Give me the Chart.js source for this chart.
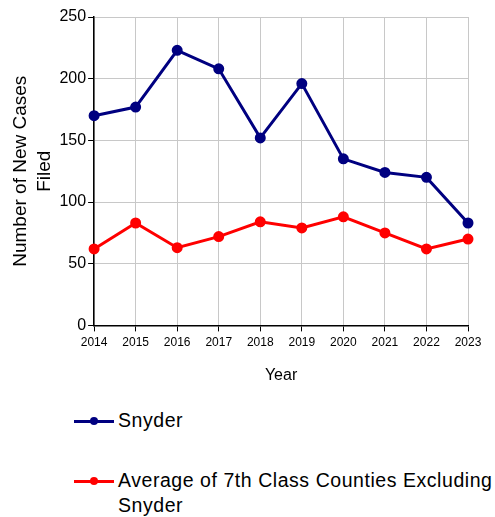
<!DOCTYPE html>
<html>
<head>
<meta charset="utf-8">
<script src="https://cdn.jsdelivr.net/npm/chart.js@4.4.1/dist/chart.umd.min.js"></script>
<style>
    body { margin: 0; background: #fff; font-family: 'Liberation Sans', Arial, sans-serif; }
    #wrap { position: relative; width: 495px; height: 389px; }
    #legend { position: absolute; left: 74px; top: 408px; width: 421px; font-size: 19.5px; letter-spacing: 0.55px; color: #000; }
    .item { display: flex; align-items: flex-start; margin-bottom: 35px; line-height: 25px; }
    .swatch { position: relative; width: 40px; height: 25px; flex: none; margin-right: 4px; }
    .swatch .ln { position: absolute; left: 0; right: 0; top: 12px; height: 3px; }
    .swatch .dot { position: absolute; left: 16px; top: 9px; width: 8px; height: 8px; border-radius: 50%; }
</style>
</head>
<body>
<div id="wrap"><canvas id="mainChart"></canvas></div>
<div id="legend"></div>
<script>
const years = ['2014', '2015', '2016', '2017', '2018', '2019', '2020', '2021', '2022', '2023'];
const snyderCases = [170, 177, 223, 208, 152, 196, 135, 124, 120, 83];
const avgCases = [62, 83, 63, 72, 84, 79, 88, 75, 62, 70];
const seriesNames = ['Snyder', 'Average of 7th Class Counties Excluding Snyder'];
const seriesColors = ['#000080', '#ff0000'];

Chart.defaults.font.family = "'Liberation Sans', Arial, sans-serif";
Chart.defaults.color = '#000';

const ctx = document.getElementById('mainChart').getContext('2d');

const chart = new Chart(ctx, {
    type: 'line',
    data: {
        labels: years,
        datasets: [
            {
                label: seriesNames[0],
                data: snyderCases,
                borderColor: seriesColors[0],
                backgroundColor: seriesColors[0],
                borderWidth: 3,
                pointRadius: 4,
                tension: 0
            },
            {
                label: seriesNames[1],
                data: avgCases,
                borderColor: seriesColors[1],
                backgroundColor: seriesColors[1],
                borderWidth: 3,
                pointRadius: 4,
                tension: 0
            }
        ]
    },
    options: {
        responsive: true,
        maintainAspectRatio: false,
        animation: false,
        layout: { padding: { top: 17, right: 27, left: 4, bottom: 0 } },
        plugins: {
            legend: { display: false },
            tooltip: { enabled: false }
        },
        scales: {
            x: {
                offset: false,
                grid: { color: '#c8c8c8', tickColor: '#000', tickLength: 6 },
                border: { color: '#000', width: 1.5 },
                ticks: { font: { size: 12 }, padding: 4, maxRotation: 0 },
                title: { display: true, text: 'Year', font: { size: 16 }, padding: { top: 12 } }
            },
            y: {
                min: 0,
                max: 250,
                grid: { color: '#c8c8c8', tickColor: '#000', tickLength: 6 },
                border: { color: '#000', width: 1.5 },
                ticks: { stepSize: 50, font: { size: 16 }, padding: 2 },
                title: { display: true, text: ['Number of New Cases', 'Filed'], font: { size: 19, lineHeight: 1.3 }, padding: { bottom: 0 } }
            }
        }
    }
});

// simple vertical legend under the chart, built from the datasets
const legendEl = document.getElementById('legend');
chart.data.datasets.forEach(ds => {
    const item = document.createElement('div');
    item.className = 'item';
    item.innerHTML = '<div class="swatch"><div class="ln" style="background:' + ds.borderColor + '"></div>' +
        '<div class="dot" style="background:' + ds.borderColor + '"></div></div><div>' + ds.label + '</div>';
    legendEl.appendChild(item);
});
</script>
</body>
</html>
